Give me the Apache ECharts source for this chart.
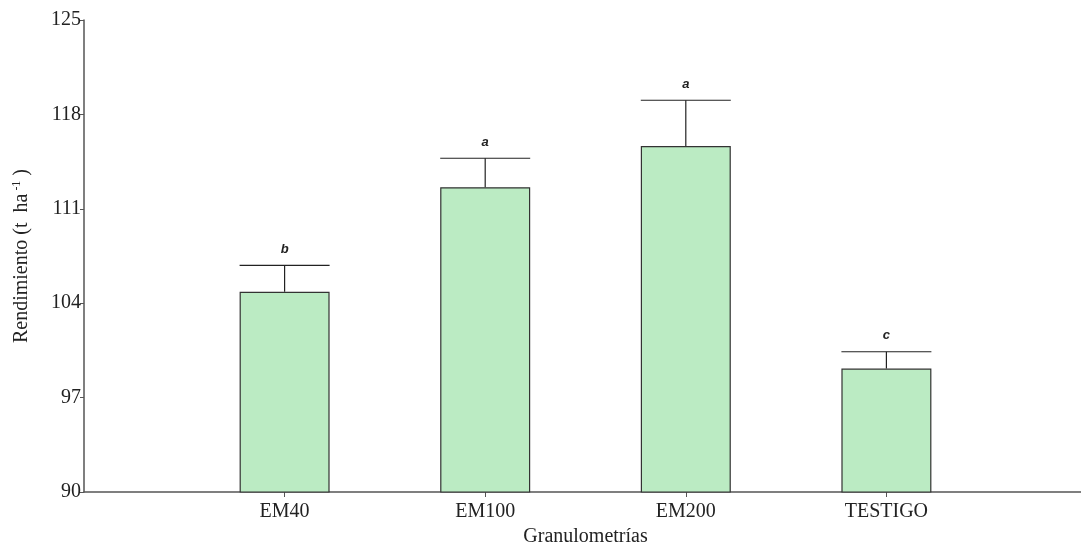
<!DOCTYPE html>
<html>
<head>
<meta charset="utf-8">
<script src="https://cdn.jsdelivr.net/npm/echarts@6/dist/echarts.min.js"></script>
<style>
  html, body { margin: 0; padding: 0; background: #fff; }
  #chart { width: 1081px; height: 548px; }
</style>
</head>
<body>
<div id="chart"></div>
<script>
// Yield by particle size treatment
const categories = ['EM40', 'EM100', 'EM200', 'TESTIGO'];
const means = [104.85, 112.6, 115.65, 99.15];
const upper = [106.8, 114.75, 119.05, 100.4];
const letters = ['b', 'a', 'a', 'c'];
const yTicks = [90, 97, 104, 111, 118, 125];

// Padded category axis so the bars sit between the two axis ends
const axisCats = [''].concat(categories, ['']);
const barData = [null].concat(means, [null]);
const errData = categories.map((c, i) => [i + 1, means[i], upper[i], letters[i]]);

const serif = '"Liberation Serif", "Times New Roman", serif';
const FS = 20;
const BAR_W = 90;

const chart = echarts.init(document.getElementById('chart'));
chart.setOption({
  animation: false,
  grid: { left: 84, top: 20, width: 1003, height: 472, containLabel: false, outerBoundsMode: 'none' },
  xAxis: {
    type: 'category',
    data: axisCats,
    boundaryGap: false,
    name: 'Granulometrías',
    nameLocation: 'middle',
    nameGap: 35,
    nameTextStyle: { fontFamily: serif, fontSize: FS, color: '#222' },
    axisLine: { lineStyle: { color: '#555', width: 1.5 } },
    axisTick: {
      length: 5,
      lineStyle: { color: '#555' },
      interval: (idx, val) => val !== ''
    },
    axisLabel: { fontFamily: serif, fontSize: FS, color: '#222', margin: 10, interval: 0 },
    splitLine: { show: false }
  },
  yAxis: {
    type: 'value',
    min: yTicks[0],
    max: yTicks[yTicks.length - 1],
    interval: yTicks[1] - yTicks[0],
    name: '{n|Rendimiento (t  ha}{s| -1}{n| )}',
    nameLocation: 'middle',
    nameGap: 52,
    nameRotate: 90,
    nameTextStyle: {
      rich: {
        n: { fontFamily: serif, fontSize: FS, color: '#222' },
        s: { fontFamily: serif, fontSize: 12, color: '#222', verticalAlign: 'top', padding: [0, 0, 9, 0] }
      }
    },
    axisLine: { show: true, lineStyle: { color: '#555', width: 1.5 } },
    axisTick: { show: true, length: 4, lineStyle: { color: '#555' } },
    axisLabel: { fontFamily: serif, fontSize: FS, color: '#222', margin: 3 },
    splitLine: { show: false }
  },
  series: [
    {
      type: 'bar',
      data: barData,
      barWidth: BAR_W,
      itemStyle: { color: '#bbebc3', borderColor: '#333', borderWidth: 1.2 },
      z: 2
    },
    {
      type: 'custom',
      data: errData,
      z: 3,
      renderItem: function (params, api) {
        const x = api.value(0);
        const top = api.coord([x, api.value(1)]);
        const hi = api.coord([x, api.value(2)]);
        const half = BAR_W / 2;
        return {
          type: 'group',
          children: [
            { type: 'line', shape: { x1: top[0], y1: top[1], x2: hi[0], y2: hi[1] },
              style: { stroke: '#222', lineWidth: 1.2 } },
            { type: 'line', shape: { x1: hi[0] - half, y1: hi[1], x2: hi[0] + half, y2: hi[1] },
              style: { stroke: '#222', lineWidth: 1.2 } },
            { type: 'text', x: hi[0], y: hi[1] - 16,
              style: { text: api.value(3), textAlign: 'center', textVerticalAlign: 'middle',
                       font: 'italic bold 13px "Liberation Sans", Arial, sans-serif', fill: '#222' } }
          ]
        };
      }
    }
  ]
});
</script>
</body>
</html>
